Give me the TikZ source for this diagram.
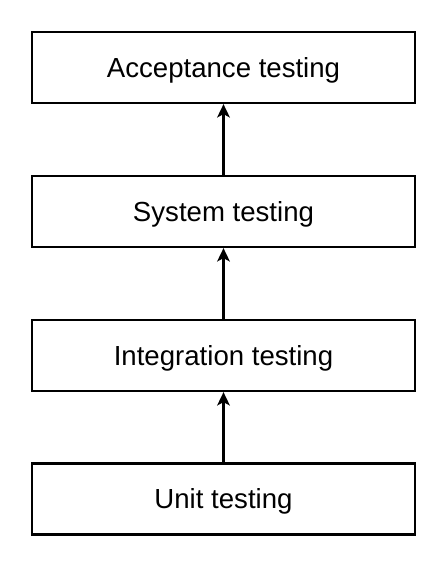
\documentclass[tikz,border=0pt]{standalone}
\usepackage{fontspec}
\setmainfont{Liberation Sans}
\usetikzlibrary{arrows.meta}
\begin{document}
\begin{tikzpicture}[x=0.75pt,y=-0.75pt,
  stage/.style={draw=black,line width=1.7pt,minimum width=383*0.75pt,minimum height=71*0.75pt,inner sep=0pt,text height=14.8pt,text depth=0pt,font=\fontsize{20.7pt}{24pt}\selectfont,fill=white},
  conn/.style={line width=1.7pt,-{Stealth[length=10pt,width=9.5pt,inset=2.5pt]}}]
\useasboundingbox (0,0) rectangle (447,567);
\node[stage] (acc) at (223.5,67.5) {Acceptance testing};
\node[stage] (sys) at (223.5,211.5) {System testing};
\node[stage] (int) at (223.5,355.5) {Integration testing};
\node[stage] (unit) at (223.5,499) {Unit testing};
\draw[conn] (sys) -- (acc);
\draw[conn] (int) -- (sys);
\draw[conn] (unit) -- (int);
\end{tikzpicture}
\end{document}
